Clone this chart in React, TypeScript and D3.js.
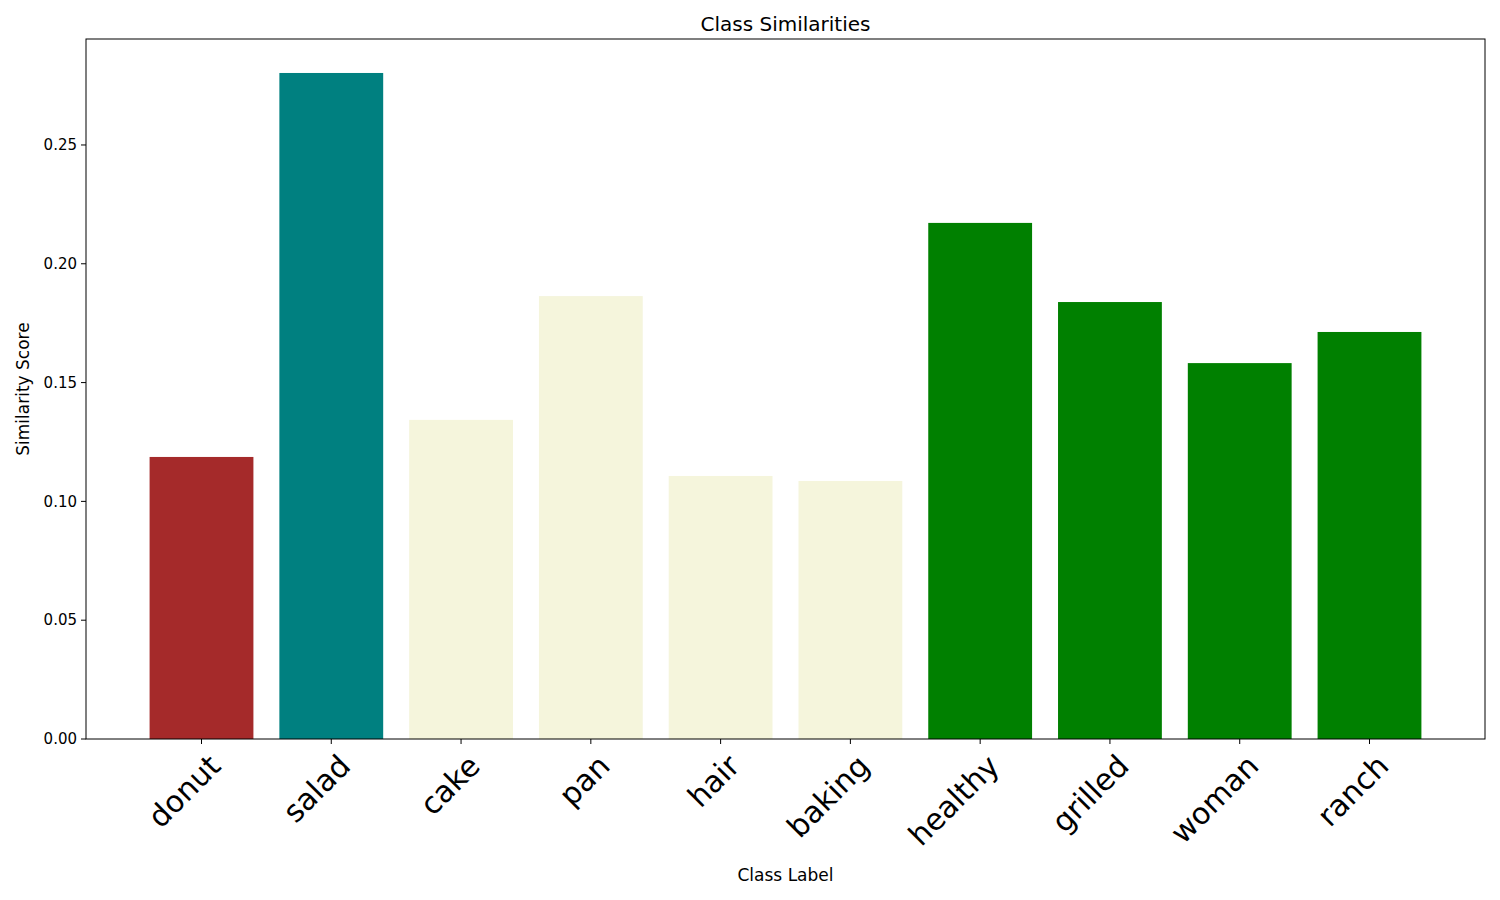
import * as d3 from 'd3';

const labels = ['donut', 'salad', 'cake', 'pan', 'hair', 'baking', 'healthy', 'grilled', 'woman', 'ranch'];
const scores = [0.1187, 0.2803, 0.1343, 0.1864, 0.1107, 0.1086, 0.2172, 0.1839, 0.1582, 0.1713];
const colors = ['#a52a2a', '#008080', '#f5f5dc', '#f5f5dc', '#f5f5dc', '#f5f5dc', '#008000', '#008000', '#008000', '#008000'];
const yTicks = [0, 0.05, 0.1, 0.15, 0.2, 0.25];

const W = 1500, H = 900;
const m = { left: 86, right: 1485, top: 39, bottom: 739 };

export default function App() {
  const x = d3.scaleLinear().domain([-0.89, 9.89]).range([m.left, m.right]);
  const y = d3.scaleLinear().domain([0, 0.2946]).range([m.bottom, m.top]);
  const bw = x(0.4) - x(-0.4);
  const font = 'DejaVu Sans, sans-serif';
  return (
    <svg width={W} height={H} style={{ position: 'absolute', left: 0, top: 0, background: '#fff' }} fontFamily={font}>
      {scores.map((s, i) => (
        <rect key={i} x={x(i) - bw / 2} y={y(s)} width={bw} height={y(0) - y(s)} fill={colors[i]} />
      ))}
      <rect x={m.left} y={m.top} width={m.right - m.left} height={m.bottom - m.top} fill="none" stroke="#000" strokeWidth={1} />
      {yTicks.map(t => (
        <g key={t} transform={`translate(${m.left},${y(t)})`}>
          <line x1={-5} x2={0} stroke="#000" />
          <text x={-9} dy="0.35em" textAnchor="end" fontSize={15}>{t.toFixed(2)}</text>
        </g>
      ))}
      {labels.map((l, i) => (
        <g key={l} transform={`translate(${x(i)},${m.bottom})`}>
          <line y2={5} stroke="#000" />
          <text transform="translate(6,14) rotate(-45)" textAnchor="end" dy="0.7em" fontSize={30}>{l}</text>
        </g>
      ))}
      <text x={(m.left + m.right) / 2} y={31} textAnchor="middle" fontSize={20}>Class Similarities</text>
      <text x={(m.left + m.right) / 2} y={881} textAnchor="middle" fontSize={17}>Class Label</text>
      <text transform={`translate(29,${(m.top + m.bottom) / 2}) rotate(-90)`} textAnchor="middle" fontSize={17}>Similarity Score</text>
    </svg>
  );
}
